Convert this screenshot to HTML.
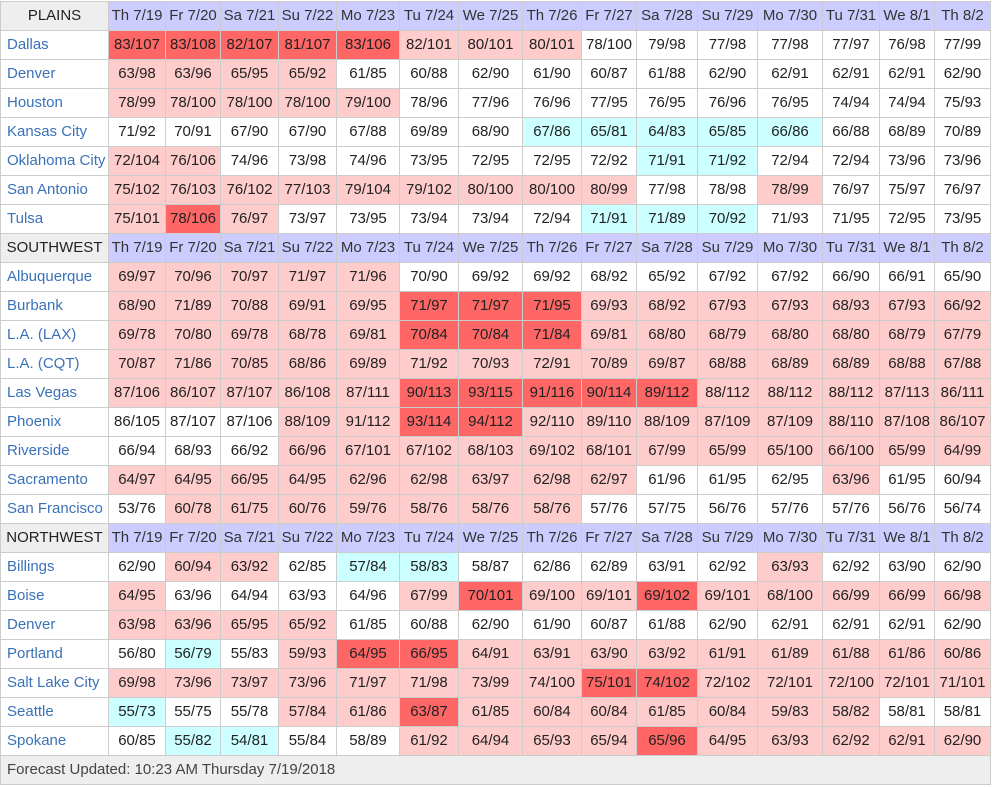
<!DOCTYPE html>
<html>
<head>
<meta charset="utf-8">
<style>
html,body{margin:0;padding:0;background:#fff;}
body{width:992px;height:787px;position:relative;overflow:hidden;font-family:"Liberation Sans",sans-serif;font-size:15px;color:#222;}
.t{position:absolute;left:0;top:1px;width:991px;border-left:1px solid #ccc;border-top:1px solid #ccc;box-sizing:border-box;}
.row{display:flex;height:29px;}
.row span{box-sizing:border-box;height:29px;border-right:1px solid #ccc;border-bottom:1px solid #ccc;text-align:center;line-height:28px;white-space:nowrap;overflow:hidden;flex:none;}
.row span:nth-child(1){width:108px}
.row span:nth-child(2){width:57px}
.row span:nth-child(3){width:55px}
.row span:nth-child(4){width:58px}
.row span:nth-child(5){width:58px}
.row span:nth-child(6){width:63px}
.row span:nth-child(7){width:59px}
.row span:nth-child(8){width:64px}
.row span:nth-child(9){width:59px}
.row span:nth-child(10){width:55px}
.row span:nth-child(11){width:61px}
.row span:nth-child(12){width:60px}
.row span:nth-child(13){width:65px}
.row span:nth-child(14){width:57px}
.row span:nth-child(15){width:55px}
.row span:nth-child(16){width:56px}
.row span.n{text-align:left;padding-left:6px;color:#3a72b8;}
.h span{background:#ccccff;color:#333;}
.h span.n{background:#eeeeee;text-align:center;padding-left:0;color:#222;}
.R{background:#ff6666}
.P{background:#ffcccc}
.C{background:#ccffff}
.foot{height:29px;box-sizing:border-box;border-right:1px solid #ccc;border-bottom:1px solid #ccc;background:#eeeeee;padding-left:6px;line-height:28px;color:#444;}
</style>
</head>
<body>
<div class="t">
<div class="row h"><span class="n">PLAINS</span><span>Th 7/19</span><span>Fr 7/20</span><span>Sa 7/21</span><span>Su 7/22</span><span>Mo 7/23</span><span>Tu 7/24</span><span>We 7/25</span><span>Th 7/26</span><span>Fr 7/27</span><span>Sa 7/28</span><span>Su 7/29</span><span>Mo 7/30</span><span>Tu 7/31</span><span>We 8/1</span><span>Th 8/2</span></div>
<div class="row"><span class="n">Dallas</span><span class="R">83/107</span><span class="R">83/108</span><span class="R">82/107</span><span class="R">81/107</span><span class="R">83/106</span><span class="P">82/101</span><span class="P">80/101</span><span class="P">80/101</span><span>78/100</span><span>79/98</span><span>77/98</span><span>77/98</span><span>77/97</span><span>76/98</span><span>77/99</span></div>
<div class="row"><span class="n">Denver</span><span class="P">63/98</span><span class="P">63/96</span><span class="P">65/95</span><span class="P">65/92</span><span>61/85</span><span>60/88</span><span>62/90</span><span>61/90</span><span>60/87</span><span>61/88</span><span>62/90</span><span>62/91</span><span>62/91</span><span>62/91</span><span>62/90</span></div>
<div class="row"><span class="n">Houston</span><span class="P">78/99</span><span class="P">78/100</span><span class="P">78/100</span><span class="P">78/100</span><span class="P">79/100</span><span>78/96</span><span>77/96</span><span>76/96</span><span>77/95</span><span>76/95</span><span>76/96</span><span>76/95</span><span>74/94</span><span>74/94</span><span>75/93</span></div>
<div class="row"><span class="n">Kansas City</span><span>71/92</span><span>70/91</span><span>67/90</span><span>67/90</span><span>67/88</span><span>69/89</span><span>68/90</span><span class="C">67/86</span><span class="C">65/81</span><span class="C">64/83</span><span class="C">65/85</span><span class="C">66/86</span><span>66/88</span><span>68/89</span><span>70/89</span></div>
<div class="row"><span class="n">Oklahoma City</span><span class="P">72/104</span><span class="P">76/106</span><span>74/96</span><span>73/98</span><span>74/96</span><span>73/95</span><span>72/95</span><span>72/95</span><span>72/92</span><span class="C">71/91</span><span class="C">71/92</span><span>72/94</span><span>72/94</span><span>73/96</span><span>73/96</span></div>
<div class="row"><span class="n">San Antonio</span><span class="P">75/102</span><span class="P">76/103</span><span class="P">76/102</span><span class="P">77/103</span><span class="P">79/104</span><span class="P">79/102</span><span class="P">80/100</span><span class="P">80/100</span><span class="P">80/99</span><span>77/98</span><span>78/98</span><span class="P">78/99</span><span>76/97</span><span>75/97</span><span>76/97</span></div>
<div class="row"><span class="n">Tulsa</span><span class="P">75/101</span><span class="R">78/106</span><span class="P">76/97</span><span>73/97</span><span>73/95</span><span>73/94</span><span>73/94</span><span>72/94</span><span class="C">71/91</span><span class="C">71/89</span><span class="C">70/92</span><span>71/93</span><span>71/95</span><span>72/95</span><span>73/95</span></div>
<div class="row h"><span class="n">SOUTHWEST</span><span>Th 7/19</span><span>Fr 7/20</span><span>Sa 7/21</span><span>Su 7/22</span><span>Mo 7/23</span><span>Tu 7/24</span><span>We 7/25</span><span>Th 7/26</span><span>Fr 7/27</span><span>Sa 7/28</span><span>Su 7/29</span><span>Mo 7/30</span><span>Tu 7/31</span><span>We 8/1</span><span>Th 8/2</span></div>
<div class="row"><span class="n">Albuquerque</span><span class="P">69/97</span><span class="P">70/96</span><span class="P">70/97</span><span class="P">71/97</span><span class="P">71/96</span><span>70/90</span><span>69/92</span><span>69/92</span><span>68/92</span><span>65/92</span><span>67/92</span><span>67/92</span><span>66/90</span><span>66/91</span><span>65/90</span></div>
<div class="row"><span class="n">Burbank</span><span class="P">68/90</span><span class="P">71/89</span><span class="P">70/88</span><span class="P">69/91</span><span class="P">69/95</span><span class="R">71/97</span><span class="R">71/97</span><span class="R">71/95</span><span class="P">69/93</span><span class="P">68/92</span><span class="P">67/93</span><span class="P">67/93</span><span class="P">68/93</span><span class="P">67/93</span><span class="P">66/92</span></div>
<div class="row"><span class="n">L.A. (LAX)</span><span class="P">69/78</span><span class="P">70/80</span><span class="P">69/78</span><span class="P">68/78</span><span class="P">69/81</span><span class="R">70/84</span><span class="R">70/84</span><span class="R">71/84</span><span class="P">69/81</span><span class="P">68/80</span><span class="P">68/79</span><span class="P">68/80</span><span class="P">68/80</span><span class="P">68/79</span><span class="P">67/79</span></div>
<div class="row"><span class="n">L.A. (CQT)</span><span class="P">70/87</span><span class="P">71/86</span><span class="P">70/85</span><span class="P">68/86</span><span class="P">69/89</span><span class="P">71/92</span><span class="P">70/93</span><span class="P">72/91</span><span class="P">70/89</span><span class="P">69/87</span><span class="P">68/88</span><span class="P">68/89</span><span class="P">68/89</span><span class="P">68/88</span><span class="P">67/88</span></div>
<div class="row"><span class="n">Las Vegas</span><span class="P">87/106</span><span class="P">86/107</span><span class="P">87/107</span><span class="P">86/108</span><span class="P">87/111</span><span class="R">90/113</span><span class="R">93/115</span><span class="R">91/116</span><span class="R">90/114</span><span class="R">89/112</span><span class="P">88/112</span><span class="P">88/112</span><span class="P">88/112</span><span class="P">87/113</span><span class="P">86/111</span></div>
<div class="row"><span class="n">Phoenix</span><span>86/105</span><span>87/107</span><span>87/106</span><span class="P">88/109</span><span class="P">91/112</span><span class="R">93/114</span><span class="R">94/112</span><span class="P">92/110</span><span class="P">89/110</span><span class="P">88/109</span><span class="P">87/109</span><span class="P">87/109</span><span class="P">88/110</span><span class="P">87/108</span><span class="P">86/107</span></div>
<div class="row"><span class="n">Riverside</span><span>66/94</span><span>68/93</span><span>66/92</span><span class="P">66/96</span><span class="P">67/101</span><span class="P">67/102</span><span class="P">68/103</span><span class="P">69/102</span><span class="P">68/101</span><span class="P">67/99</span><span class="P">65/99</span><span class="P">65/100</span><span class="P">66/100</span><span class="P">65/99</span><span class="P">64/99</span></div>
<div class="row"><span class="n">Sacramento</span><span class="P">64/97</span><span class="P">64/95</span><span class="P">66/95</span><span class="P">64/95</span><span class="P">62/96</span><span class="P">62/98</span><span class="P">63/97</span><span class="P">62/98</span><span class="P">62/97</span><span>61/96</span><span>61/95</span><span>62/95</span><span class="P">63/96</span><span>61/95</span><span>60/94</span></div>
<div class="row"><span class="n">San Francisco</span><span>53/76</span><span class="P">60/78</span><span class="P">61/75</span><span class="P">60/76</span><span class="P">59/76</span><span class="P">58/76</span><span class="P">58/76</span><span class="P">58/76</span><span>57/76</span><span>57/75</span><span>56/76</span><span>57/76</span><span>57/76</span><span>56/76</span><span>56/74</span></div>
<div class="row h"><span class="n">NORTHWEST</span><span>Th 7/19</span><span>Fr 7/20</span><span>Sa 7/21</span><span>Su 7/22</span><span>Mo 7/23</span><span>Tu 7/24</span><span>We 7/25</span><span>Th 7/26</span><span>Fr 7/27</span><span>Sa 7/28</span><span>Su 7/29</span><span>Mo 7/30</span><span>Tu 7/31</span><span>We 8/1</span><span>Th 8/2</span></div>
<div class="row"><span class="n">Billings</span><span>62/90</span><span class="P">60/94</span><span class="P">63/92</span><span>62/85</span><span class="C">57/84</span><span class="C">58/83</span><span>58/87</span><span>62/86</span><span>62/89</span><span>63/91</span><span>62/92</span><span class="P">63/93</span><span>62/92</span><span>63/90</span><span>62/90</span></div>
<div class="row"><span class="n">Boise</span><span class="P">64/95</span><span>63/96</span><span>64/94</span><span>63/93</span><span>64/96</span><span class="P">67/99</span><span class="R">70/101</span><span class="P">69/100</span><span class="P">69/101</span><span class="R">69/102</span><span class="P">69/101</span><span class="P">68/100</span><span class="P">66/99</span><span class="P">66/99</span><span class="P">66/98</span></div>
<div class="row"><span class="n">Denver</span><span class="P">63/98</span><span class="P">63/96</span><span class="P">65/95</span><span class="P">65/92</span><span>61/85</span><span>60/88</span><span>62/90</span><span>61/90</span><span>60/87</span><span>61/88</span><span>62/90</span><span>62/91</span><span>62/91</span><span>62/91</span><span>62/90</span></div>
<div class="row"><span class="n">Portland</span><span>56/80</span><span class="C">56/79</span><span>55/83</span><span class="P">59/93</span><span class="R">64/95</span><span class="R">66/95</span><span class="P">64/91</span><span class="P">63/91</span><span class="P">63/90</span><span class="P">63/92</span><span class="P">61/91</span><span class="P">61/89</span><span class="P">61/88</span><span class="P">61/86</span><span class="P">60/86</span></div>
<div class="row"><span class="n">Salt Lake City</span><span class="P">69/98</span><span class="P">73/96</span><span class="P">73/97</span><span class="P">73/96</span><span class="P">71/97</span><span class="P">71/98</span><span class="P">73/99</span><span class="P">74/100</span><span class="R">75/101</span><span class="R">74/102</span><span class="P">72/102</span><span class="P">72/101</span><span class="P">72/100</span><span class="P">72/101</span><span class="P">71/101</span></div>
<div class="row"><span class="n">Seattle</span><span class="C">55/73</span><span>55/75</span><span>55/78</span><span class="P">57/84</span><span class="P">61/86</span><span class="R">63/87</span><span class="P">61/85</span><span class="P">60/84</span><span class="P">60/84</span><span class="P">61/85</span><span class="P">60/84</span><span class="P">59/83</span><span class="P">58/82</span><span>58/81</span><span>58/81</span></div>
<div class="row"><span class="n">Spokane</span><span>60/85</span><span class="C">55/82</span><span class="C">54/81</span><span>55/84</span><span>58/89</span><span class="P">61/92</span><span class="P">64/94</span><span class="P">65/93</span><span class="P">65/94</span><span class="R">65/96</span><span class="P">64/95</span><span class="P">63/93</span><span class="P">62/92</span><span class="P">62/91</span><span class="P">62/90</span></div>
<div class="foot">Forecast Updated: 10:23 AM Thursday 7/19/2018</div>
</div>
</body>
</html>
